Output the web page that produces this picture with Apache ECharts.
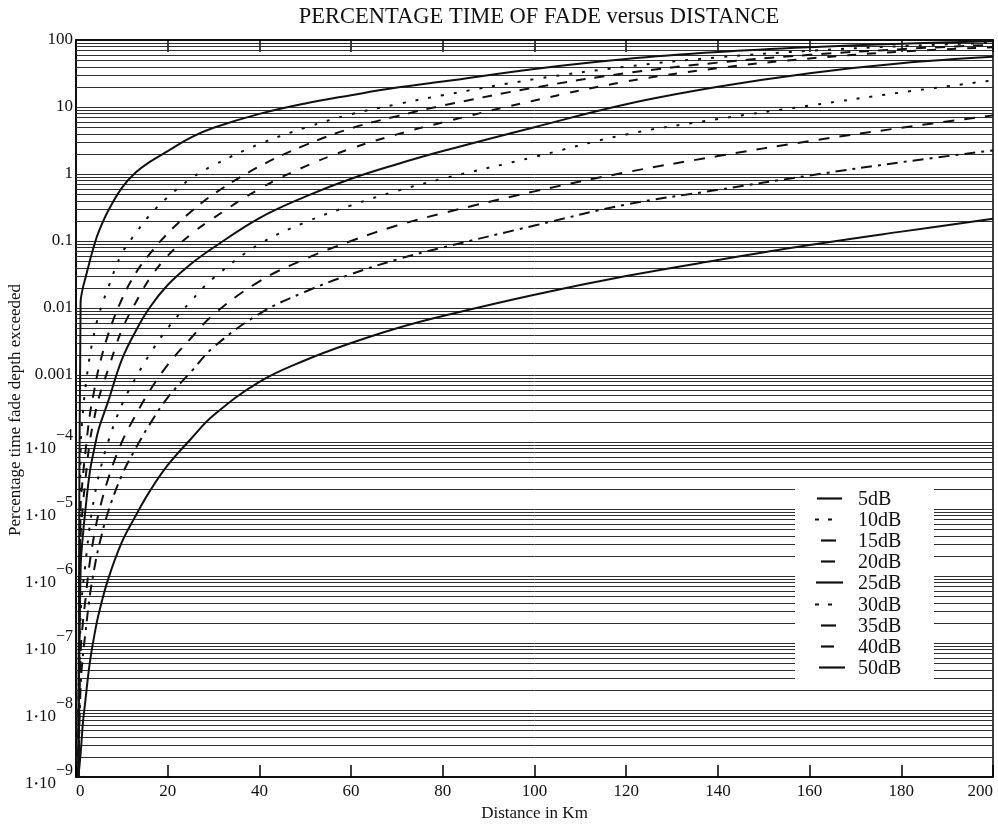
<!DOCTYPE html>
<html>
<head>
<meta charset="utf-8">
<script src="https://cdn.jsdelivr.net/npm/echarts@6/dist/echarts.min.js"></script>
<style>
  html, body { margin: 0; padding: 0; background: #fff; }
  #chart { width: 998px; height: 826px; }
</style>
</head>
<body>
<div id="chart"></div>
<script>
// Distance samples (km) shared by every fade-depth curve
const distanceKm = [0.5, 1, 1.5, 2, 3, 4, 5, 7, 10, 13, 16, 20, 25, 30, 40, 50, 60, 70, 80, 100, 120, 140, 160, 180, 200];

// Percentage of time each fade depth is exceeded, per distance sample
const fade5dB  = [1e-9, 0.012, 0.02, 0.027, 0.05, 0.088, 0.14, 0.28, 0.62, 1.05, 1.5, 2.2, 3.5, 4.9, 7.9, 11.3, 15, 19.5, 24, 37, 52, 66, 78, 88, 96];
const fade10dB = [1e-9, 8e-5, 2.7e-4, 6e-4, 1.9e-3, 4.3e-3, 8e-3, 0.02, 0.065, 0.13, 0.24, 0.45, 0.85, 1.35, 2.8, 4.9, 7.8, 11, 15, 26, 40, 55, 69, 81, 91];
const fade15dB = [1e-9, 1e-5, 3e-5, 6.5e-5, 2.5e-4, 6e-4, 1.3e-3, 4e-3, 0.0135, 0.033, 0.063, 0.13, 0.27, 0.5, 1.3, 2.7, 4.8, 7.3, 10.5, 19.5, 32, 46, 60, 73, 85];
const fade20dB = [1e-9, 3.6e-6, 1.1e-5, 2.5e-5, 1e-4, 2.3e-4, 4.6e-4, 1.2e-3, 4.7e-3, 0.012, 0.027, 0.06, 0.125, 0.22, 0.6, 1.3, 2.4, 3.9, 5.9, 12.5, 24, 38, 53, 67, 78];
const fade25dB = [1e-9, 1.3e-6, 4e-6, 9e-6, 3.5e-5, 8e-5, 1.6e-4, 4e-4, 1.7e-3, 4.5e-3, 0.01, 0.022, 0.045, 0.08, 0.22, 0.46, 0.85, 1.4, 2.2, 5, 11, 20, 32, 45, 56];
const fade30dB = [1e-9, 2.5e-7, 7e-7, 1.4e-6, 5.6e-6, 1.5e-5, 3.2e-5, 1e-4, 3.6e-4, 9e-4, 2e-3, 5e-3, 0.0125, 0.028, 0.09, 0.19, 0.34, 0.56, 0.85, 1.8, 3.9, 6.6, 10.5, 16.5, 25];
const fade35dB = [1e-9, 7e-8, 2e-7, 4.1e-7, 1.6e-6, 4.2e-6, 9e-6, 2.8e-5, 1e-4, 2.5e-4, 5.7e-4, 1.42e-3, 3.5e-3, 8e-3, 0.025, 0.054, 0.1, 0.17, 0.26, 0.55, 1.06, 1.85, 3.1, 4.9, 7.5];
const fade40dB = [1e-9, 2.2e-8, 6.5e-8, 1.3e-7, 5e-7, 1.3e-6, 2.8e-6, 9e-6, 3.2e-5, 8e-5, 1.8e-4, 4.6e-4, 1.1e-3, 2.6e-3, 8.2e-3, 0.0175, 0.032, 0.053, 0.08, 0.17, 0.35, 0.58, 0.95, 1.5, 2.25];
const fade50dB = [1e-9, 2.2e-9, 6.3e-9, 1.3e-8, 5e-8, 1.3e-7, 2.8e-7, 8.9e-7, 3.2e-6, 7.9e-6, 1.8e-5, 4.5e-5, 1.1e-4, 2.5e-4, 7.9e-4, 1.66e-3, 3.0e-3, 5.0e-3, 7.6e-3, 0.0158, 0.030, 0.052, 0.087, 0.138, 0.214];

const curveNames = ['5dB', '10dB', '15dB', '20dB', '25dB', '30dB', '35dB', '40dB', '50dB'];
const curveValues = [fade5dB, fade10dB, fade15dB, fade20dB, fade25dB, fade30dB, fade35dB, fade40dB, fade50dB];

// Axis tick labels
const xTicks = [0, 20, 40, 60, 80, 100, 120, 140, 160, 180, 200];
const yDecadeLabels = { '2': '100', '1': '10', '0': '1', '-1': '0.1', '-2': '0.01', '-3': '0.001' };

// Line dash style per curve
const curveDash = ['solid', [3, 10], [10, 9], [9, 11], 'solid', [3, 10], [11, 10], [11, 6, 3, 6], 'solid'];
// Legend key sample: [x start, x end, dash]
const keySample = [
  [817, 842, null], [815, 841, [4, 9]], [821, 836, null], [821, 835, null], [816, 843, null],
  [815, 841, [4, 9]], [821, 836, null], [821, 834, null], [819, 845, null]
];

const SERIF = '"Liberation Serif", "Times New Roman", serif';
const INK = '#111';

// Log grid: a horizontal rule at every 1..9 multiple of each decade
const gridRules = [];
for (let e = -9; e <= 1; e++) {
  for (let m = 1; m <= 9; m++) {
    if (e === -9 && m === 1) continue;
    gridRules.push([0, m * Math.pow(10, e)]);
  }
}

const series = curveNames.map((name, i) => ({
  name: name,
  type: 'line',
  xAxisIndex: 0,
  data: distanceKm.map((d, k) => [d, curveValues[i][k]]),
  showSymbol: false,
  symbol: 'none',
  smooth: 0.4,
  clip: true,
  z: 5,
  lineStyle: { color: INK, width: 2, type: curveDash[i] },
  itemStyle: { color: INK },
  emphasis: { disabled: true }
}));

series.unshift({
  name: 'grid',
  type: 'custom',
  xAxisIndex: 0,
  silent: true,
  z: 1,
  data: gridRules,
  encode: { x: 0, y: 1 },
  renderItem: (params, api) => {
    const left = api.coord([0, api.value(1)]);
    const right = api.coord([200, api.value(1)]);
    const y = Math.round(left[1]) + 0.5;
    return {
      type: 'line',
      shape: { x1: left[0], y1: y, x2: right[0], y2: y },
      style: { stroke: '#2e2e2e', lineWidth: 1 }
    };
  }
});

// Legend key drawn as graphic elements over a white panel
const legendTop = 498, legendStep = 21.1;
const legendGraphics = [{
  type: 'rect', shape: { x: 795, y: 478, width: 139, height: 210 },
  style: { fill: '#fff' }, z: 10
}];
curveNames.forEach((name, i) => {
  const y = Math.round(legendTop + i * legendStep) + 0.5;
  const k = keySample[i];
  legendGraphics.push({
    type: 'line', z: 11,
    shape: { x1: k[0], y1: y, x2: k[1], y2: y },
    style: { stroke: INK, lineWidth: 2.2, lineDash: k[2] || null }
  });
  legendGraphics.push({
    type: 'text', z: 11, x: 858, y: y + 1,
    style: { text: name, font: '20px ' + SERIF, fill: INK, textVerticalAlign: 'middle', textAlign: 'left' }
  });
});

const chart = echarts.init(document.getElementById('chart'), null, { renderer: 'canvas' });

chart.setOption({
  animation: false,
  backgroundColor: '#fff',
  textStyle: { fontFamily: SERIF, color: INK },
  grid: {
    left: 76, right: 5, top: 40, bottom: 49,
    outerBoundsMode: 'none',
    containLabel: false,
    show: true, borderColor: '#000', borderWidth: 1.5, backgroundColor: 'transparent'
  },
  xAxis: [
    {
      type: 'value', min: 0, max: 200, interval: 20,
      name: 'Distance in Km', nameLocation: 'middle', nameGap: 28,
      nameTextStyle: { fontFamily: SERIF, fontSize: 17, color: INK },
      axisLine: { show: true, lineStyle: { color: '#000', width: 1.5 } },
      axisTick: { show: true, inside: true, length: 12, lineStyle: { color: '#000', width: 1.5 } },
      axisLabel: { fontFamily: SERIF, fontSize: 17, color: INK, margin: 6,
        alignMinLabel: 'left', alignMaxLabel: 'right',
        formatter: v => (xTicks.indexOf(v) >= 0 ? String(v) : '') },
      splitLine: { show: false }
    },
    {
      type: 'value', min: 0, max: 200, interval: 20, position: 'top',
      axisLine: { show: true, lineStyle: { color: '#000', width: 1.5 } },
      axisTick: { show: true, inside: true, length: 12, lineStyle: { color: '#000', width: 1.5 } },
      axisLabel: { show: false },
      splitLine: { show: false }
    }
  ],
  yAxis: {
    type: 'log', logBase: 10, min: 1e-9, max: 100, interval: 1, splitNumber: 11,
    axisLine: { show: true, lineStyle: { color: '#000', width: 1.5 } },
    axisTick: { show: false },
    splitLine: { show: false },
    axisLabel: {
      margin: 3, fontFamily: SERIF, fontSize: 17, color: INK,
      formatter: v => {
        const e = Math.round(Math.log10(v));
        if (yDecadeLabels[String(e)] !== undefined) return yDecadeLabels[String(e)];
        return '{b|1}{d|\u2022}{b|10}{s|\u2212' + (-e) + '}';
      },
      rich: {
        b: { fontFamily: SERIF, fontSize: 17, color: INK, padding: [14, 0, 0, 0] },
        d: { fontFamily: SERIF, fontSize: 10, color: INK, padding: [14, 1, 0, 1] },
        s: { fontFamily: SERIF, fontSize: 16, color: INK, padding: [0, 0, 13, 0] }
      }
    }
  },
  graphic: [
    {
      type: 'text', x: 539, y: 17, z: 10,
      style: {
        text: 'PERCENTAGE TIME OF FADE versus DISTANCE', font: '22.5px ' + SERIF, fill: INK,
        textAlign: 'center', textVerticalAlign: 'middle'
      }
    },
    {
      type: 'text', x: 16, y: 410, rotation: Math.PI / 2, z: 10,
      style: {
        text: 'Percentage time fade depth exceeded', font: '17px ' + SERIF, fill: INK,
        textAlign: 'center', textVerticalAlign: 'middle'
      }
    }
  ].concat(legendGraphics),
  series: series
});
</script>
</body>
</html>
